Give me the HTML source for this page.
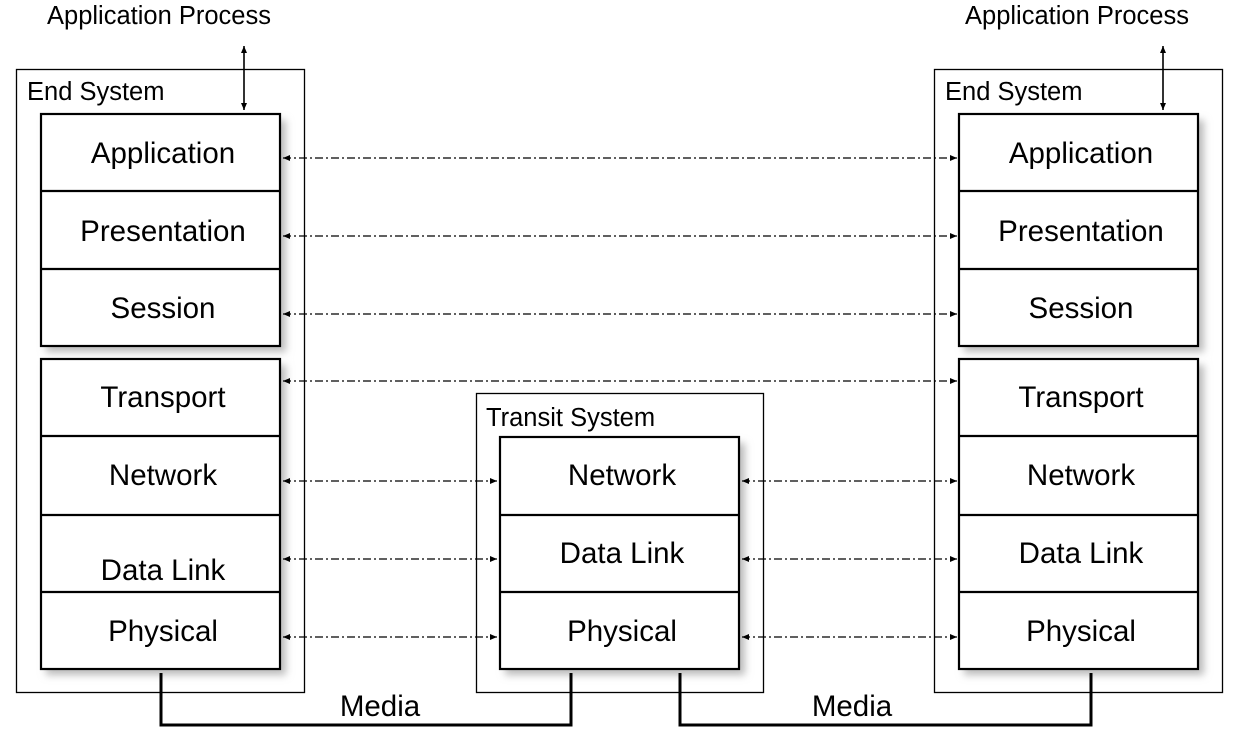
<!DOCTYPE html>
<html><head><meta charset="utf-8"><style>
html,body{margin:0;padding:0;background:#fff;}
svg{display:block;}
text{font-family:"Liberation Sans",Arial,sans-serif;fill:#000;}
</style></head><body>
<svg width="1240" height="745" viewBox="0 0 1240 745" xmlns="http://www.w3.org/2000/svg">
<defs>
<marker id="ah" markerWidth="8" markerHeight="8" refX="7" refY="4" orient="auto-start-reverse" markerUnits="userSpaceOnUse">
<path d="M0,1 L7,4 L0,7 z" fill="#000"/></marker>
<filter id="sh" x="-10%" y="-10%" width="130%" height="130%"><feGaussianBlur stdDeviation="4"/></filter>
</defs>
<rect x="16.5" y="69.5" width="288" height="623" fill="none" stroke="#000" stroke-width="1.3"/>
<rect x="934.5" y="69.5" width="288" height="623" fill="none" stroke="#000" stroke-width="1.3"/>
<rect x="476.5" y="393.5" width="287" height="299" fill="none" stroke="#000" stroke-width="1.3"/>
<g fill="#bbb" filter="url(#sh)">
<rect x="46" y="120" width="240" height="232"/>
<rect x="46" y="365" width="240" height="310"/>
<rect x="964" y="120" width="240" height="232"/>
<rect x="964" y="365" width="240" height="310"/>
<rect x="505" y="443" width="240" height="232"/>
</g>
<g fill="#fff" stroke="#000" stroke-width="2.2">
<rect x="41" y="114" width="239" height="232"/>
<rect x="41" y="359" width="239" height="310"/>
<rect x="959" y="114" width="239" height="232"/>
<rect x="959" y="359" width="239" height="310"/>
<rect x="500" y="437" width="239" height="232"/>
</g>
<g stroke="#000" stroke-width="2.2">
<line x1="41" y1="191" x2="280" y2="191"/><line x1="41" y1="269" x2="280" y2="269"/>
<line x1="41" y1="436" x2="280" y2="436"/><line x1="41" y1="515" x2="280" y2="515"/><line x1="41" y1="592" x2="280" y2="592"/>
<line x1="959" y1="191" x2="1198" y2="191"/><line x1="959" y1="269" x2="1198" y2="269"/>
<line x1="959" y1="436" x2="1198" y2="436"/><line x1="959" y1="515" x2="1198" y2="515"/><line x1="959" y1="592" x2="1198" y2="592"/>
<line x1="500" y1="515" x2="739" y2="515"/><line x1="500" y1="592" x2="739" y2="592"/>
</g>
<g font-size="29.5" text-anchor="middle">
<text x="163" y="163">Application</text><text x="163" y="241">Presentation</text><text x="163" y="318">Session</text>
<text x="163" y="407">Transport</text><text x="163" y="485">Network</text><text x="163" y="580">Data Link</text><text x="163" y="641">Physical</text>
<text x="1081" y="163">Application</text><text x="1081" y="241">Presentation</text><text x="1081" y="318">Session</text>
<text x="1081" y="407">Transport</text><text x="1081" y="485">Network</text><text x="1081" y="563">Data Link</text><text x="1081" y="641">Physical</text>
<text x="622" y="485">Network</text><text x="622" y="563">Data Link</text><text x="622" y="641">Physical</text>
<text x="380" y="716">Media</text><text x="852" y="716">Media</text>
</g>
<g font-size="25.5">
<text x="47" y="24">Application Process</text><text x="965" y="24">Application Process</text>
<text x="27" y="100">End System</text><text x="945" y="100">End System</text>
<text x="486" y="426">Transit System</text>
</g>
<g stroke="#000" stroke-width="1.3" stroke-dasharray="8,3,2,3" marker-start="url(#ah)" marker-end="url(#ah)">
<line x1="283" y1="158" x2="957" y2="158"/><line x1="283" y1="236" x2="957" y2="236"/>
<line x1="283" y1="314" x2="957" y2="314"/><line x1="283" y1="381" x2="957" y2="381"/>
<line x1="283" y1="481" x2="497" y2="481"/><line x1="742" y1="481" x2="957" y2="481"/>
<line x1="283" y1="559" x2="497" y2="559"/><line x1="742" y1="559" x2="957" y2="559"/>
<line x1="283" y1="637" x2="497" y2="637"/><line x1="742" y1="637" x2="957" y2="637"/>
</g>
<g stroke="#000" stroke-width="1.6" marker-start="url(#ah)" marker-end="url(#ah)">
<line x1="244" y1="46" x2="244" y2="110"/><line x1="1163" y1="46" x2="1163" y2="110"/>
</g>
<g fill="none" stroke="#000" stroke-width="3">
<polyline points="161,673 161,725 571,725 571,673"/>
<polyline points="680,673 680,725 1091,725 1091,673"/>
</g>
</svg>
</body></html>
